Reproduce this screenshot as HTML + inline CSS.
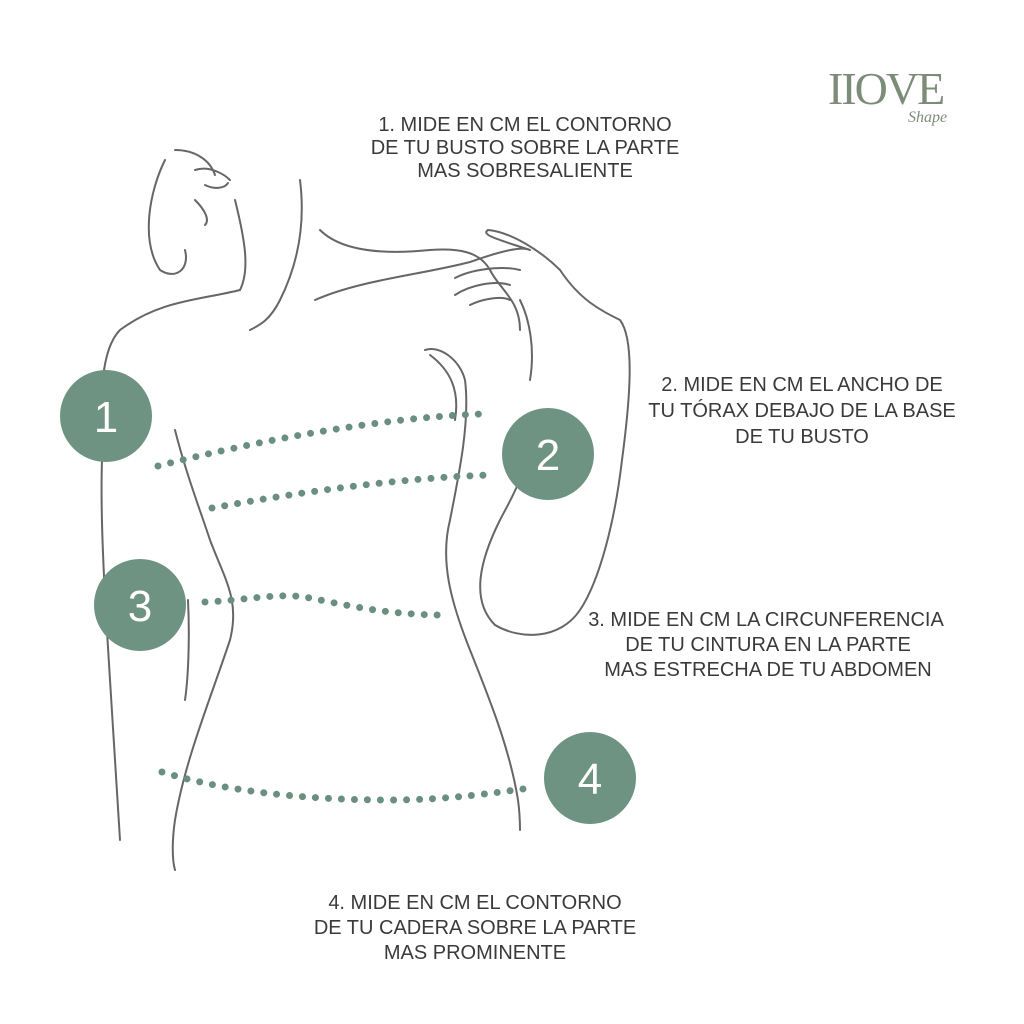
<!DOCTYPE html>
<html><head><meta charset="utf-8"><style>
html,body{margin:0;padding:0;background:#fff;}
svg{display:block}
text{font-family:"Liberation Sans",sans-serif;fill:#3a3a3a;}
</style></head><body>
<svg width="1024" height="1024" viewBox="0 0 1024 1024" xmlns="http://www.w3.org/2000/svg">
<rect width="1024" height="1024" fill="#fff"/>
<text x="828" y="104" font-size="46" style="fill:#7d8c79;font-family:'Liberation Serif',serif" letter-spacing="-2">IIOVE</text>
<text x="908" y="122" font-style="italic" font-size="16" style="fill:#7d8c79;font-family:'Liberation Serif',serif">Shape</text>
<g fill="none" stroke="#666" stroke-width="2" stroke-linecap="round" stroke-linejoin="round">
<path d="M165 160 C150 190 140 240 160 270 C175 280 190 270 185 250"/>
<path d="M175 150 C195 150 210 160 215 175 M195 170 C210 165 225 175 230 180 M205 185 C215 190 225 188 228 183 M195 200 C205 210 210 220 205 225"/>
<path d="M235 200 C245 240 250 270 240 290 C200 300 160 300 120 330 C100 350 100 400 102 460 C100 520 105 600 110 680 C115 760 118 810 120 840"/>
<path d="M300 180 C305 220 300 260 280 300 C270 320 260 325 250 330"/>
<path d="M320 230 C340 250 380 255 430 250 C460 248 480 252 490 270 C500 290 520 300 520 330"/>
<path d="M315 300 C360 280 420 275 470 262 C490 255 520 245 530 250 C500 240 480 235 488 230 C510 232 540 250 560 270 C580 300 600 310 620 320 C635 340 630 400 622 460 C615 520 600 580 580 610 C560 640 520 640 495 625 C470 600 480 560 500 520 C510 500 530 470 525 440"/>
<path d="M455 278 C470 270 500 265 520 270 M455 295 C470 285 495 280 510 285 M470 305 C480 300 500 295 510 300 M520 300 C530 320 535 350 530 380"/>
<path d="M175 430 C185 470 200 510 210 540 C225 580 240 600 230 640 C210 700 185 760 175 820 C172 840 172 860 175 870"/>
<path d="M425 350 C440 345 460 360 465 380 C470 420 460 470 450 520 C440 560 450 600 470 650 C490 700 510 750 518 800 C520 815 520 825 520 830"/>
<path d="M430 355 C450 370 460 390 455 420"/>
<path d="M188 600 C190 640 188 680 185 700"/>
</g>
<g fill="none" stroke="#6a8f80" stroke-width="7" stroke-linecap="round" stroke-dasharray="0 13">
<path d="M158 466 C260 440 380 418 480 414"/>
<path d="M212 508 C300 492 400 478 490 475"/>
<path d="M205 602 C250 600 280 592 310 598 C350 606 390 615 445 615"/>
<path d="M162 772 C220 790 300 800 390 800 C450 800 500 792 530 788"/>
</g>
<g fill="#6e9383">
<circle cx="106" cy="416" r="46"/>
<circle cx="548" cy="454" r="46"/>
<circle cx="140" cy="605" r="46"/>
<circle cx="590" cy="778" r="46"/>
</g>
<g font-size="44" text-anchor="middle">
<text x="106" y="432" style="fill:#fff">1</text>
<text x="548" y="470" style="fill:#fff">2</text>
<text x="140" y="621" style="fill:#fff">3</text>
<text x="590" y="794" style="fill:#fff">4</text>
</g>
<g font-size="20" text-anchor="middle">
<text x="525" y="131">1. MIDE EN CM EL CONTORNO</text>
<text x="525" y="154">DE TU BUSTO SOBRE LA PARTE</text>
<text x="525" y="177">MAS SOBRESALIENTE</text>
<text x="802" y="391">2. MIDE EN CM EL ANCHO DE</text>
<text x="802" y="417">TU TÓRAX DEBAJO DE LA BASE</text>
<text x="802" y="443">DE TU BUSTO</text>
<text x="766" y="626">3. MIDE EN CM LA CIRCUNFERENCIA</text>
<text x="768" y="651">DE TU CINTURA EN LA PARTE</text>
<text x="768" y="676">MAS ESTRECHA DE TU ABDOMEN</text>
<text x="475" y="909">4. MIDE EN CM EL CONTORNO</text>
<text x="475" y="934">DE TU CADERA SOBRE LA PARTE</text>
<text x="475" y="959">MAS PROMINENTE</text>
</g>
</svg>
</body></html>
